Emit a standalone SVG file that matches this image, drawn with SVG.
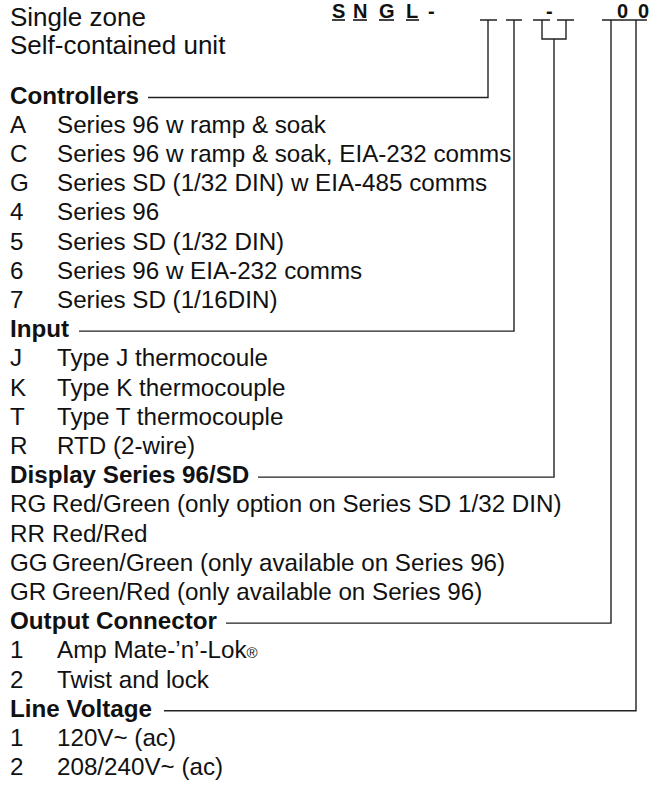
<svg xmlns="http://www.w3.org/2000/svg" width="652" height="786" viewBox="0 0 652 786">
<style>
text{font-family:"Liberation Sans",Arial,Helvetica,sans-serif;fill:#111}
.h{font-size:26px}
.t{font-size:24.2px}
.b{font-size:24.2px;font-weight:bold}
.c{font-size:20px;font-weight:bold}
.ln{fill:none;stroke:#222;stroke-width:1.4}
.ul{stroke:#222;stroke-width:1.7}
</style>
<rect width="652" height="786" fill="#fff"/>
<g id="title">
<text class="h" x="10" y="26">Single zone</text>
<text class="h" x="10" y="54">Self-contained unit</text>
</g>
<g id="code">
<text class="c" x="332" y="17.5">S</text>
<text class="c" x="353" y="17.5">N</text>
<text class="c" x="379" y="17.5">G</text>
<text class="c" x="406" y="17.5">L</text>
<text class="c" x="428" y="17.5">-</text>
<text class="c" x="546" y="17.5">-</text>
<text class="c" x="617" y="17.5">0</text>
<text class="c" x="638" y="17.5">0</text>
<line class="ul" x1="332" y1="20" x2="345" y2="20"/>
<line class="ul" x1="353" y1="20" x2="367" y2="20"/>
<line class="ul" x1="379" y1="20" x2="394" y2="20"/>
<line class="ul" x1="406" y1="20" x2="419" y2="20"/>
</g>
<g id="connectors">
<path class="ln" d="M480,20H497M488,20V97.5H148"/>
<path class="ln" d="M506,20H522M514,20V331.1H79"/>
<path class="ln" d="M533,20H550M557,20H574M542,20V39H566V20M554,39V477.1H258"/>
<path class="ln" d="M602,20H647M611,20V623.1H226"/>
<path class="ln" d="M636,20V710.7H164"/>
</g>
<g id="controllers">
<text class="b" x="10" y="103.5">Controllers</text>
<text class="t" x="10" y="132.7">A</text><text class="t" x="57" y="132.7">Series 96 w ramp &amp; soak</text>
<text class="t" x="10" y="161.9">C</text><text class="t" x="57" y="161.9">Series 96 w ramp &amp; soak, EIA-232 comms</text>
<text class="t" x="10" y="191.1">G</text><text class="t" x="57" y="191.1">Series SD (1/32 DIN) w EIA-485 comms</text>
<text class="t" x="10" y="220.3">4</text><text class="t" x="57" y="220.3">Series 96</text>
<text class="t" x="10" y="249.5">5</text><text class="t" x="57" y="249.5">Series SD (1/32 DIN)</text>
<text class="t" x="10" y="278.7">6</text><text class="t" x="57" y="278.7">Series 96 w EIA-232 comms</text>
<text class="t" x="10" y="307.9">7</text><text class="t" x="57" y="307.9">Series SD (1/16DIN)</text>
</g>
<g id="input">
<text class="b" x="10" y="337.1">Input</text>
<text class="t" x="10" y="366.3">J</text><text class="t" x="57" y="366.3">Type J thermocoule</text>
<text class="t" x="10" y="395.5">K</text><text class="t" x="57" y="395.5">Type K thermocouple</text>
<text class="t" x="10" y="424.7">T</text><text class="t" x="57" y="424.7">Type T thermocouple</text>
<text class="t" x="10" y="453.9">R</text><text class="t" x="57" y="453.9">RTD (2-wire)</text>
</g>
<g id="display">
<text class="b" x="10" y="483.1">Display Series 96/SD</text>
<text class="t" x="10" y="512.3">RG</text><text class="t" x="52" y="512.3">Red/Green (only option on Series SD 1/32 DIN)</text>
<text class="t" x="10" y="541.5">RR</text><text class="t" x="52" y="541.5">Red/Red</text>
<text class="t" x="10" y="570.7">GG</text><text class="t" x="52" y="570.7">Green/Green (only available on Series 96)</text>
<text class="t" x="10" y="599.9">GR</text><text class="t" x="52" y="599.9">Green/Red (only available on Series 96)</text>
</g>
<g id="output">
<text class="b" x="10" y="629.1">Output Connector</text>
<text class="t" x="10" y="658.3">1</text><text class="t" x="57" y="658.3">Amp Mate-’n’-Lok<tspan font-size="15">®</tspan></text>
<text class="t" x="10" y="687.5">2</text><text class="t" x="57" y="687.5">Twist and lock</text>
</g>
<g id="voltage">
<text class="b" x="10" y="716.7">Line Voltage</text>
<text class="t" x="10" y="745.9">1</text><text class="t" x="57" y="745.9">120V~ (ac)</text>
<text class="t" x="10" y="775.1">2</text><text class="t" x="57" y="775.1">208/240V~ (ac)</text>
</g>
</svg>
